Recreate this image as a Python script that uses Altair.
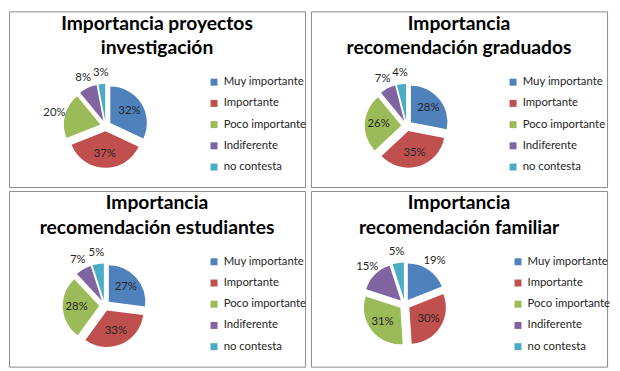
import math
import altair as alt
import pandas as pd

categories = ["Muy importante", "Importante", "Poco importante", "Indiferente", "no contesta"]
colors = ["#4F81BD", "#C0504D", "#9BBB59", "#8064A2", "#4BACC6"]

titles = [
    ["Importancia proyectos", "investigación"],
    ["Importancia", "recomendación graduados"],
    ["Importancia", "recomendación estudiantes"],
    ["Importancia", "recomendación familiar"],
]
proyectos = [32, 37, 20, 8, 3]
graduados = [28, 35, 26, 7, 4]
estudiantes = [27, 33, 28, 7, 5]
familiar = [19, 30, 31, 15, 5]
series = [proyectos, graduados, estudiantes, familiar]

# layout / style
W, H = 300, 178
R = 37
EXPLODE = 0.15
centers = [(98, 116), (97, 116), (97, 116), (95, 115)]
legend_x = [202, 199, 202, 204]
FONT = "Lato"


def panel(values, title, center, lx):
    df = pd.DataFrame({
        "categoria": categories,
        "valor": values,
        "orden": list(range(len(categories))),
    })
    cx, cy = center
    base = (
        alt.Chart(df)
        .transform_joinaggregate(total="sum(valor)")
        .transform_window(acum="sum(valor)", sort=[alt.SortField("orden")], frame=[None, 0])
        .transform_calculate(
            inicio="(datum.acum - datum.valor) / datum.total",
            fin="datum.acum / datum.total",
        )
        .transform_calculate(medio="PI * (datum.inicio + datum.fin)")
        .transform_calculate(
            px=f"sin(datum.medio) * {EXPLODE}",
            py=f"-cos(datum.medio) * {EXPLODE}",
            rl="datum.valor > 20 ? 0.62 : 1.3",
            etiqueta="datum.valor + '%'",
        )
        .transform_calculate(
            tx=f"sin(datum.medio) * ({EXPLODE} + datum.rl)",
            ty=f"-cos(datum.medio) * ({EXPLODE} + datum.rl)",
        )
    )
    xs = alt.Scale(domain=[-1, 1], range=[cx - R, cx + R])
    ys = alt.Scale(domain=[-1, 1], range=[cy - R, cy + R])
    arcs = base.mark_arc(outerRadius=R).encode(
        x=alt.X("px:Q", scale=xs, axis=None),
        y=alt.Y("py:Q", scale=ys, axis=None),
        theta=alt.Theta("inicio:Q", scale=alt.Scale(domain=[0, 1], range=[0, 2 * math.pi])),
        theta2="fin:Q",
        color=alt.Color(
            "categoria:N",
            scale=alt.Scale(domain=categories, range=colors),
            legend=alt.Legend(
                title=None, orient="none", legendX=lx, legendY=66,
                symbolType="square", symbolSize=50, symbolStrokeWidth=0,
                labelFont=FONT, labelFontSize=11.5, labelColor="#262626",
                rowPadding=8.5, labelLimit=200,
            ),
        ),
    )
    labels = base.mark_text(
        font=FONT, fontSize=11.5, color="#262626", baseline="middle", align="center"
    ).encode(
        x=alt.X("tx:Q", scale=xs, axis=None),
        y=alt.Y("ty:Q", scale=ys, axis=None),
        text="etiqueta:N",
    )
    return alt.layer(arcs, labels).properties(
        width=W, height=H,
        title=alt.TitleParams(
            text=title, font=FONT, fontSize=19.5, fontWeight="bold", color="black",
            anchor="middle", frame="group", dy=52, lineHeight=25,
        ),
    )


panels = [panel(v, t, c, lx) for v, t, c, lx in zip(series, titles, centers, legend_x)]

row1 = alt.hconcat(panels[0], panels[1], spacing=2).resolve_scale(
    x="independent", y="independent", color="independent").resolve_legend(color="independent")
row2 = alt.hconcat(panels[2], panels[3], spacing=2).resolve_scale(
    x="independent", y="independent", color="independent").resolve_legend(color="independent")

chart = (
    alt.vconcat(row1, row2, spacing=2)
    .resolve_scale(x="independent", y="independent", color="independent")
    .resolve_legend(color="independent")
    .properties(padding=0, background="white")
    .configure_view(stroke="#8a8a8a", strokeWidth=1)
)

chart.save("out.html", embed_options={"renderer": "svg", "actions": False})
